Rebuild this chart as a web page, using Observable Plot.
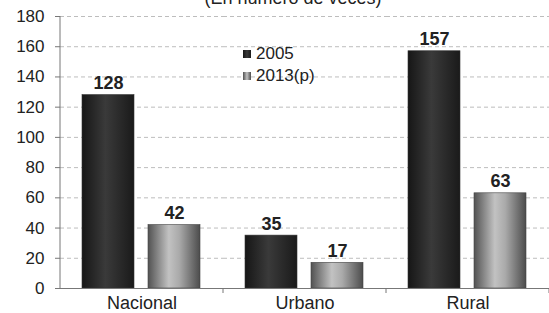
<!DOCTYPE html>
<html>
<head>
<meta charset="utf-8">
<script src="https://cdn.jsdelivr.net/npm/d3@7"></script>
<script src="https://cdn.jsdelivr.net/npm/@observablehq/plot@0.6"></script>
<style>
  html, body { margin: 0; padding: 0; background: #fff; overflow: hidden; }
  #wrap { position: relative; width: 549px; height: 313px; font-family: "Liberation Sans", Arial, sans-serif; }
  #title { position: absolute; top: -12px; left: 0; width: 586px; text-align: center; font-size: 18px; color: #222; white-space: nowrap; }
  .leg { position: absolute; left: 243px; font-size: 17px; color: #222; display: flex; align-items: center; white-space: nowrap; }
  .sw { width: 8px; height: 8px; margin-right: 5px; }
  svg text { fill: #222; }
</style>
</head>
<body>
<div id="wrap">
  <div id="title">(En número de veces)</div>
</div>
<script>
const categories = ["Nacional", "Urbano", "Rural"];
const series = ["2005", "2013(p)"];
const values2005 = [128, 35, 157];
const values2013 = [42, 17, 63];
const yTicks = [0, 20, 40, 60, 80, 100, 120, 140, 160, 180];

const data = [];
categories.forEach((c, i) => {
  data.push({cat: c, serie: series[0], value: values2005[i]});
  data.push({cat: c, serie: series[1], value: values2013[i]});
});

const chart = Plot.plot({
  width: 549,
  height: 313,
  marginLeft: 60,
  marginRight: 0,
  marginTop: 16,
  marginBottom: 25,
  style: {fontFamily: "'Liberation Sans', Arial, sans-serif", background: "#fff"},
  fx: {domain: categories, padding: 0, label: null},
  x: {domain: series, paddingInner: 0.207, paddingOuter: 0.322, axis: null},
  y: {domain: [0, 180], ticks: yTicks, label: null},
  marks: [
    Plot.gridY(yTicks.filter(d => d > 0), {stroke: "#bdbdbd", strokeOpacity: 1, strokeDasharray: "4,3"}),
    Plot.axisY(yTicks, {tickSize: 5, tickPadding: 11, fontSize: 17, stroke: "#777", label: null}),
    Plot.axisFx({anchor: "bottom", tickSize: 0, tickPadding: 8, fontSize: 18, label: null}),
    Plot.barY(data.filter(d => d.serie === series[0]), {fx: "cat", x: "serie", y: "value", fill: "url(#g2005)", stroke: "#333", strokeWidth: 0.6}),
    Plot.barY(data.filter(d => d.serie === series[1]), {fx: "cat", x: "serie", y: "value", fill: "url(#g2013)", stroke: "#444", strokeWidth: 0.6}),
    Plot.text(data, {fx: "cat", x: "serie", y: "value", text: d => String(d.value), dy: -6, lineAnchor: "bottom", fontWeight: "bold", fontSize: 18}),
    Plot.ruleY([0], {stroke: "#777", strokeWidth: 1})
  ]
});

const svg = d3.select(chart);
const defs = svg.insert("defs", ":first-child");
const g1 = defs.append("linearGradient").attr("id", "g2005").attr("x1", "0").attr("x2", "1").attr("y1", "0").attr("y2", "0");
[["0%", "#161616"], ["45%", "#3a3a3a"], ["100%", "#1a1a1a"]].forEach(([o, c]) => g1.append("stop").attr("offset", o).attr("stop-color", c));
const g2 = defs.append("linearGradient").attr("id", "g2013").attr("x1", "0").attr("x2", "1").attr("y1", "0").attr("y2", "0");
[["0%", "#525252"], ["40%", "#c2c2c2"], ["60%", "#aaaaaa"], ["100%", "#4c4c4c"]].forEach(([o, c]) => g2.append("stop").attr("offset", o).attr("stop-color", c));

// y axis line and category separator ticks, positioned through the chart scales
const ys = chart.scale("y");
const fxs = chart.scale("fx");
const x0 = fxs.apply(categories[0]);
svg.append("line").attr("x1", x0).attr("x2", x0).attr("y1", ys.apply(180)).attr("y2", ys.apply(0)).attr("stroke", "#777");
categories.forEach(c => {
  const xe = fxs.apply(c) + fxs.bandwidth;
  svg.append("line").attr("x1", xe).attr("x2", xe).attr("y1", ys.apply(0)).attr("y2", ys.apply(0) + 5).attr("stroke", "#777");
});

const wrap = document.getElementById("wrap");
wrap.appendChild(chart);
chart.style.position = "absolute";
chart.style.left = "0";
chart.style.top = "0";

// legend
[[series[0], "linear-gradient(90deg,#161616,#3a3a3a,#1a1a1a)", 44], [series[1], "linear-gradient(90deg,#525252,#c2c2c2,#4c4c4c)", 66]].forEach(([label, bg, top]) => {
  const el = document.createElement("div");
  el.className = "leg";
  el.style.top = top + "px";
  el.innerHTML = `<span class="sw" style="background:${bg}"></span><span>${label}</span>`;
  wrap.appendChild(el);
});
document.getElementById("title").style.zIndex = 2;
</script>
</body>
</html>
